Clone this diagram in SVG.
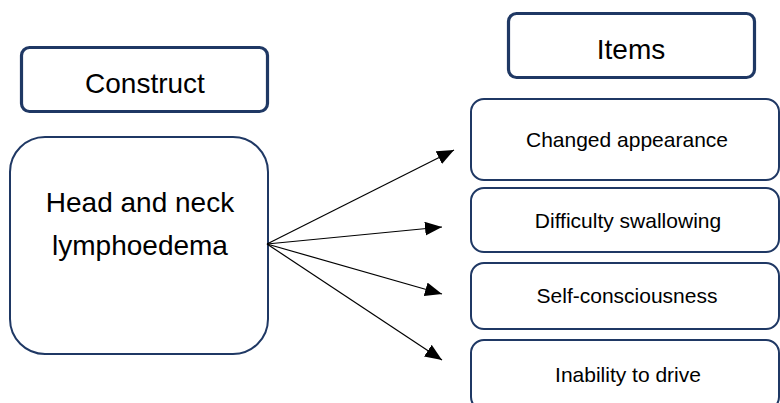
<svg xmlns="http://www.w3.org/2000/svg" width="780" height="403" viewBox="0 0 780 403">
<style>
.box{fill:#fff;stroke:#1f3864;stroke-width:2}
.hdr{fill:#fff;stroke:#1f3864;stroke-width:3.2}
text{font-family:"Liberation Sans",Arial,sans-serif;fill:#000;text-anchor:middle}
.big{font-size:28px}
.item{font-size:21px}
.conn{stroke:#000;stroke-width:1.2;fill:none;marker-end:url(#ah)}
</style>
<defs>
<marker id="ah" markerUnits="userSpaceOnUse" markerWidth="18" markerHeight="14" refX="17" refY="7" orient="auto">
<path d="M0,0 L17,7 L0,14 Z" fill="#000"/>
</marker>
</defs>
<rect width="780" height="403" fill="#fff"/>
<g id="construct">
<rect class="hdr" x="21.5" y="47.5" width="246" height="64" rx="8"/>
<text class="big" x="145" y="93">Construct</text>
</g>
<g id="items">
<rect class="hdr" x="508.5" y="13.5" width="246" height="64" rx="8"/>
<text class="big" x="631" y="59">Items</text>
</g>
<g id="head">
<rect class="box" x="10" y="137" width="258" height="217" rx="35"/>
<text class="big" x="140" y="212">Head and neck</text>
<text class="big" x="140" y="255">lymphoedema</text>
</g>
<g id="item1">
<rect class="box" x="471" y="99" width="308" height="81" rx="13"/>
<text class="item" x="627" y="147">Changed appearance</text>
</g>
<g id="item2">
<rect class="box" x="471" y="188" width="308" height="64" rx="13"/>
<text class="item" x="628" y="228">Difficulty swallowing</text>
</g>
<g id="item3">
<rect class="box" x="471" y="263" width="308" height="66" rx="13"/>
<text class="item" x="627" y="303">Self-consciousness</text>
</g>
<g id="item4">
<rect class="box" x="471" y="340" width="308" height="70" rx="13"/>
<text class="item" x="628" y="382">Inability to drive</text>
</g>
<g id="connectors">
<line class="conn" x1="267" y1="244" x2="454" y2="150"/>
<line class="conn" x1="267" y1="244" x2="442" y2="227"/>
<line class="conn" x1="267" y1="244" x2="442" y2="294"/>
<line class="conn" x1="267" y1="244" x2="442" y2="360"/>
</g>
</svg>
